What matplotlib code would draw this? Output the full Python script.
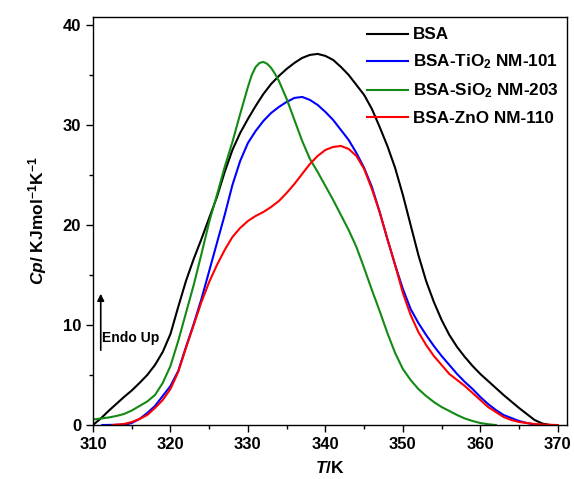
import numpy as np
import matplotlib
matplotlib.use("Agg")
import matplotlib.pyplot as plt
from matplotlib.ticker import MultipleLocator

plt.rcParams["font.family"] = ["Liberation Sans", "DejaVu Sans"]
plt.rcParams["font.weight"] = "bold"
plt.rcParams["axes.labelweight"] = "bold"
plt.rcParams["mathtext.fontset"] = "custom"
plt.rcParams["mathtext.rm"] = "Liberation Sans:bold"
plt.rcParams["mathtext.bf"] = "Liberation Sans:bold"
plt.rcParams["mathtext.it"] = "Liberation Sans:bold:italic"

# values (T in K, Cp in kJ/mol/K)
bsa_T = [310, 311, 312, 313, 314, 315, 316, 317, 318, 319, 320, 321, 322, 323, 324,
         325, 326, 327, 328, 329, 330, 331, 332, 333, 334, 335, 336, 337, 338, 339,
         340, 341, 342, 343, 344, 345, 346, 347, 348, 349, 350, 351, 352, 353, 354,
         355, 356, 357, 358, 359, 360, 361, 362, 363, 364, 365, 366, 367, 368, 369]
bsa_cp = [0.0, 0.65, 1.4, 2.1, 2.8, 3.45, 4.2, 5.0, 6.0, 7.3, 9.1, 11.8, 14.4, 16.6, 18.6,
          20.7, 22.8, 25.3, 27.5, 29.2, 30.6, 31.9, 33.1, 34.1, 34.9, 35.6, 36.2, 36.7, 37.0, 37.1,
          36.9, 36.5, 35.8, 35.0, 34.0, 33.0, 31.6, 29.8, 27.9, 25.7, 23.0, 20.0, 17.0, 14.4, 12.3,
          10.5, 9.0, 7.8, 6.8, 5.9, 5.1, 4.4, 3.7, 3.0, 2.35, 1.7, 1.1, 0.5, 0.15, 0.0]

tio2_T = [311.2, 313, 314.2, 315, 316, 317, 318, 319, 320, 321, 322, 323, 324, 325,
          326, 327, 328, 329, 330, 331, 332, 333, 334, 335, 336, 337, 338, 339, 340,
          341, 342, 343, 344, 345, 346, 347, 348, 349, 350, 351, 352, 353, 354, 355,
          356, 357, 358, 359, 360, 361, 362, 363, 364, 365, 366, 367, 368]
tio2_cp = [0, 0.02, 0.05, 0.2, 0.6, 1.2, 1.9, 2.9, 3.9, 5.4, 7.8, 10.1, 12.6, 15.4,
           18.2, 21.0, 24.0, 26.4, 28.2, 29.4, 30.4, 31.2, 31.8, 32.3, 32.7, 32.8, 32.5, 32.0, 31.3,
           30.5, 29.5, 28.5, 27.2, 25.7, 23.8, 21.3, 18.6, 16.0, 13.6, 11.6, 10.2, 9.0, 7.9, 6.9,
           6.0, 5.1, 4.3, 3.6, 2.8, 2.1, 1.5, 1.0, 0.7, 0.4, 0.2, 0.05, 0]

sio2_T = [310, 311, 312, 313, 314, 315, 316, 317, 318, 319, 320, 321, 322, 323, 324,
          325, 326, 327, 328, 329, 330, 330.5, 331, 331.5, 332, 332.5, 333, 333.5, 334,
          335, 336, 337, 338, 339, 340, 341, 342, 343, 344, 345, 346, 347, 348, 349,
          350, 351, 352, 353, 354, 355, 356, 357, 358, 359, 360, 361, 362]
sio2_cp = [0.55, 0.65, 0.75, 0.9, 1.1, 1.45, 1.9, 2.35, 3.0, 4.2, 5.9, 8.4, 11.2, 14.0, 17.1,
           20.3, 23.0, 25.8, 28.3, 31.1, 33.8, 35.0, 35.8, 36.2, 36.3, 36.1, 35.7, 35.1, 34.4,
           32.6, 30.5, 28.4, 26.6, 25.3, 23.9, 22.5, 21.0, 19.5, 17.8, 15.7, 13.5, 11.4, 9.2, 7.2,
           5.6, 4.5, 3.6, 2.9, 2.3, 1.8, 1.4, 1.0, 0.65, 0.4, 0.2, 0.08, 0]

zno_T = [312.5, 314, 315, 316, 317, 318, 319, 320, 321, 322, 323, 324, 325, 326, 327,
         328, 329, 330, 331, 332, 333, 334, 335, 336, 337, 338, 339, 340, 341, 342,
         343, 344, 345, 346, 347, 348, 349, 350, 351, 352, 353, 354, 355, 356, 357,
         358, 359, 360, 361, 362, 363, 364, 365, 366, 367, 368, 370]
zno_cp = [0, 0.1, 0.3, 0.6, 1.0, 1.7, 2.5, 3.6, 5.3, 7.7, 10.0, 12.3, 14.3, 16.0, 17.5,
          18.8, 19.7, 20.4, 20.9, 21.3, 21.8, 22.4, 23.2, 24.1, 25.1, 26.1, 26.9, 27.5, 27.8, 27.9,
          27.6, 26.9, 25.6, 23.6, 21.3, 18.6, 16.0, 13.2, 11.0, 9.3, 8.0, 6.9, 6.0, 5.1, 4.5,
          3.9, 3.2, 2.5, 1.8, 1.3, 0.8, 0.5, 0.3, 0.2, 0.1, 0.05, 0]

series = [
    ("BSA", bsa_T, bsa_cp, "black"),
    ("BSA-TiO$_2$ NM-101", tio2_T, tio2_cp, "#0000ff"),
    ("BSA-SiO$_2$ NM-203", sio2_T, sio2_cp, "#138a13"),
    ("BSA-ZnO NM-110", zno_T, zno_cp, "#ff0000"),
]

fig = plt.figure(figsize=(5.74, 4.79), dpi=100)
ax = fig.add_axes([0.162, 0.1127, 0.826, 0.852])

for label, t, cp, color in series:
    ax.plot(t, cp, color=color, lw=1.5, label=label)

ax.set_xlim(310, 371.2)
ax.set_ylim(0, 40.8)
ax.xaxis.set_major_locator(MultipleLocator(10))
ax.xaxis.set_minor_locator(MultipleLocator(5))
ax.yaxis.set_major_locator(MultipleLocator(10))
ax.yaxis.set_minor_locator(MultipleLocator(5))
ax.tick_params(which="major", direction="out", length=5, width=1, labelsize=12)
ax.tick_params(which="minor", direction="out", length=3, width=1)
for s in ax.spines.values():
    s.set_linewidth(1.0)

ax.set_xlabel("$\\mathit{T}$/K", fontsize=12.5, labelpad=6)
ax.set_ylabel("$\\mathit{Cp}$/ KJmol$^{-1}$K$^{-1}$", fontsize=12.5, labelpad=10)

ax.annotate("", xy=(311.0, 13.4), xytext=(311.0, 7.2),
            arrowprops=dict(arrowstyle="-|>", color="black", lw=1.2, mutation_scale=10))
ax.text(311.2, 8.7, "Endo Up", fontsize=10, fontweight="bold", va="center", ha="left")

ax.legend(loc="upper right", bbox_to_anchor=(1.0, 0.995), frameon=False, fontsize=12.3,
          handlelength=2.4, handletextpad=0.3, labelspacing=0.6, borderaxespad=0.1)

fig.savefig("out.png", dpi=100)
